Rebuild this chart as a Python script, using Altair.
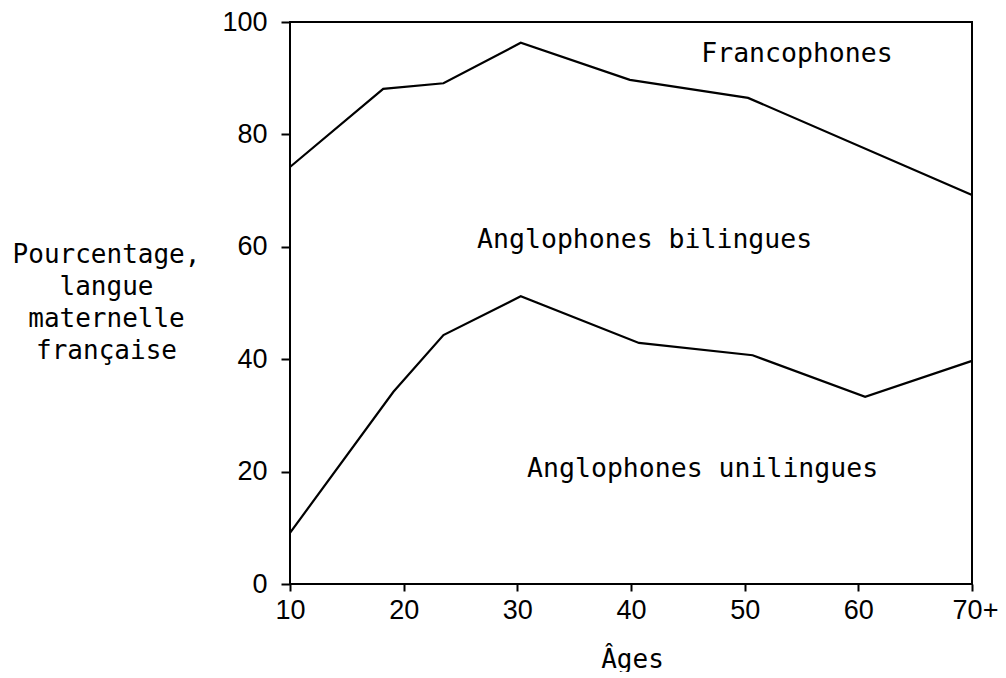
import altair as alt
import pandas as pd

# Upper boundary (Francophones / Anglophones bilingues)
top_ages = [10, 18.2, 23.5, 30.3, 39.9, 50.3, 70]
top_vals = [74.2, 88.1, 89.1, 96.3, 89.7, 86.5, 69.2]

# Lower boundary (Anglophones bilingues / unilingues)
bot_ages = [10, 19.1, 23.5, 30.3, 40.7, 50.7, 60.6, 70]
bot_vals = [9.1, 34.2, 44.3, 51.2, 42.9, 40.7, 33.3, 39.7]

x_ticks = [10, 20, 30, 40, 50, 60, 70]
y_ticks = [0, 20, 40, 60, 80, 100]

region_labels = ["Francophones", "Anglophones bilingues", "Anglophones unilingues"]
region_x = [54.6, 41.2, 46.3]
region_y = [92.9, 59.8, 19.0]

lines = pd.DataFrame(
    {
        "age": top_ages + bot_ages,
        "pct": top_vals + bot_vals,
        "serie": ["haut"] * len(top_ages) + ["bas"] * len(bot_ages),
    }
)
labels = pd.DataFrame({"txt": region_labels, "age": region_x, "pct": region_y})

MONO = "DejaVu Sans Mono"

x_scale = alt.Scale(domain=[10, 70], nice=False, zero=False)
y_scale = alt.Scale(domain=[0, 100], nice=False)

x_axis = alt.Axis(
    values=x_ticks,
    labelExpr="datum.value == 70 ? '70+' : datum.label",
    labelOffset={"expr": "datum.value == 70 ? 3 : 0"},
    labelFlush=False,
    labelOverlap=False,
    grid=False,
    domain=False,
    tickColor="black",
    tickWidth=2,
    tickSize=7,
    labelPadding=6,
    labelFont="Liberation Sans",
    labelFontSize=27,
    labelColor="black",
    title="Âges",
    titleFont=MONO,
    titleFontSize=26,
    titleFontWeight="normal",
    titleColor="black",
    titleX=342,
    titleY=83,
    titleBaseline="alphabetic",
    titleAlign="center",
)

y_axis = alt.Axis(
    values=y_ticks,
    grid=False,
    domain=False,
    labelFlush=False,
    tickColor="black",
    tickWidth=2,
    tickSize=9,
    labelPadding=14,
    labelFont="Liberation Sans",
    labelFontSize=27,
    labelColor="black",
    title=["Pourcentage,", "langue", "maternelle", "française"],
    titleFont=MONO,
    titleFontSize=26,
    titleFontWeight="normal",
    titleColor="black",
    titleAngle=0,
    titleAlign="center",
    titleBaseline="alphabetic",
    titleLineHeight=32,
    titleX=-184,
    titleY=240,
)

line_layer = (
    alt.Chart(lines)
    .mark_line(color="black", strokeWidth=2.2)
    .encode(
        x=alt.X("age:Q", scale=x_scale, axis=x_axis),
        y=alt.Y("pct:Q", scale=y_scale, axis=y_axis),
        detail="serie:N",
    )
)

text_layer = (
    alt.Chart(labels)
    .mark_text(font=MONO, fontSize=26.5, color="black", align="center", baseline="alphabetic")
    .encode(
        x=alt.X("age:Q", scale=x_scale),
        y=alt.Y("pct:Q", scale=y_scale),
        text="txt:N",
    )
)

chart = (
    alt.layer(line_layer, text_layer)
    .properties(
        width=682,
        height=562,
        padding={"left": 282, "top": 14, "right": 26, "bottom": 88},
        autosize=alt.AutoSizeParams(type="none"),
        background="white",
    )
    .configure_view(stroke="black", strokeWidth=2)
)

chart.save("out.html", embed_options={"renderer": "svg", "actions": False})
